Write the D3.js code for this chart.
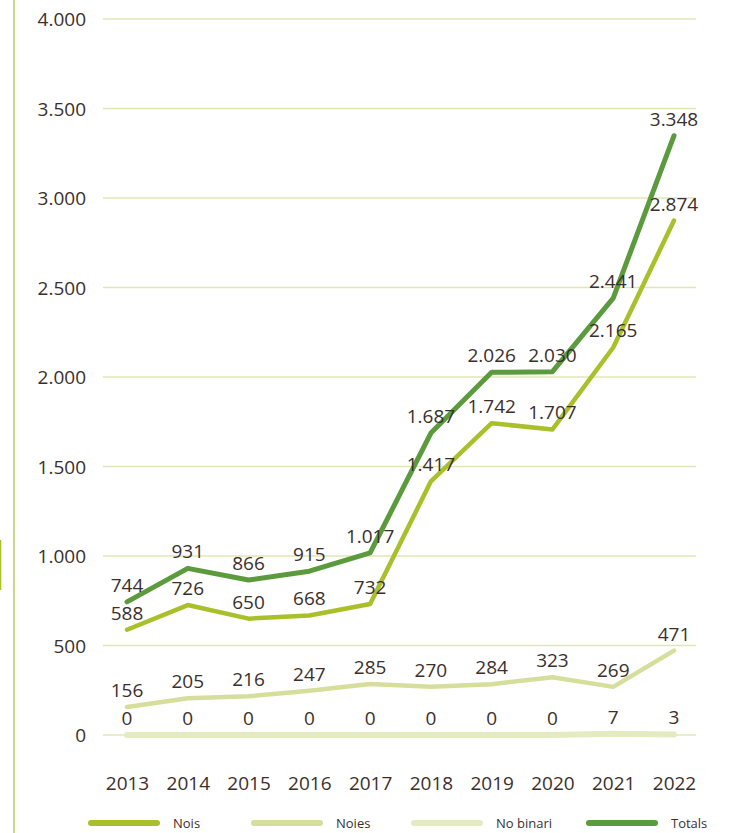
<!DOCTYPE html>
<html><head><meta charset="utf-8">
<script src="https://cdn.jsdelivr.net/npm/d3@7"></script>
<style>body{margin:0;background:#fff}svg{display:block}</style>
</head><body>
<svg id="c" width="735" height="833"></svg>
<script>
const years = [2013,2014,2015,2016,2017,2018,2019,2020,2021,2022];
const nois = [588,726,650,668,732,1417,1742,1707,2165,2874];
const noies = [156,205,216,247,285,270,284,323,269,471];
const noBinari = [0,0,0,0,0,0,0,0,7,3];
const totals = [744,931,866,915,1017,1687,2026,2030,2441,3348];
const yTicks = [0,500,1000,1500,2000,2500,3000,3500,4000];
const seriesNames = ["Nois","Noies","No binari","Totals"];
const seriesColors = ["#a9c02b","#d5df9b","#e5ebc0","#5b9b3d"];

const svg = d3.select("#c");
const font = "'Open Sans', sans-serif";
const textColor = "#3b2f2c";
const x = d3.scalePoint().domain(years).range([127, 674]);
const y = d3.scaleLinear().domain([0,4000]).range([735, 19]);
const fmt = v => d3.format(",")(v).replace(/,/g,".");

// left frame line
svg.append("line").attr("x1",14).attr("x2",14).attr("y1",0).attr("y2",833)
  .attr("stroke","#c9d88a").attr("stroke-width",2);
svg.append("line").attr("x1",0.5).attr("x2",0.5).attr("y1",540).attr("y2",590)
  .attr("stroke","#a9c02b").attr("stroke-width",1.5);

// grid
svg.append("g").selectAll("line").data(yTicks).join("line")
  .attr("x1",103).attr("x2",696).attr("y1",d=>y(d)).attr("y2",d=>y(d))
  .attr("stroke","#e0e7b4").attr("stroke-width",1.3);

// y axis
const ya = svg.append("g").attr("transform","translate(86,0)")
  .call(d3.axisLeft(y).tickValues(yTicks).tickFormat(fmt).tickSize(0).tickPadding(0));
ya.select(".domain").remove();
ya.selectAll("text").attr("font-family",font).attr("font-size",19).attr("fill",textColor).attr("dy","0.35em");

// x axis
const xa = svg.append("g").attr("transform","translate(0,783)")
  .call(d3.axisBottom(x).tickSize(0).tickPadding(0).tickFormat(d=>String(d)));
xa.select(".domain").remove();
xa.selectAll("text").attr("font-family",font).attr("font-size",19).attr("fill",textColor).attr("dy","0.35em");

const series = [nois, noies, noBinari, totals];
const line = d3.line().x((d,i)=>x(years[i])).y(d=>y(d)).curve(d3.curveLinear);
const widths = [4.5,4.5,6,5];
[2,1,0,3].forEach(k=>{
  svg.append("path").datum(series[k]).attr("d",line)
    .attr("fill","none").attr("stroke",seriesColors[k]).attr("stroke-width",widths[k])
    .attr("stroke-linecap","round").attr("stroke-linejoin","round");
});

// labels
[0,1,2,3].forEach(k=>{
  svg.append("g").selectAll("text").data(series[k]).join("text")
    .attr("x",(d,i)=>x(years[i])).attr("y",d=>y(d)-10)
    .attr("text-anchor","middle").attr("font-family",font).attr("font-size",19)
    .attr("fill",textColor).text(fmt);
});

// legend
const legX = [91,254,414,589];
const lg = svg.append("g").selectAll("g").data(seriesNames).join("g")
  .attr("transform",(d,i)=>`translate(${legX[i]},823)`);
lg.append("line").attr("x1",0).attr("x2",66).attr("y1",0).attr("y2",0)
  .attr("stroke",(d,i)=>seriesColors[i]).attr("stroke-width",6).attr("stroke-linecap","round");
lg.append("text").attr("x",82).attr("y",0).attr("dy","0.35em")
  .attr("font-family",font).attr("font-size",13).attr("fill",textColor).text(d=>d);
</script>
</body></html>
